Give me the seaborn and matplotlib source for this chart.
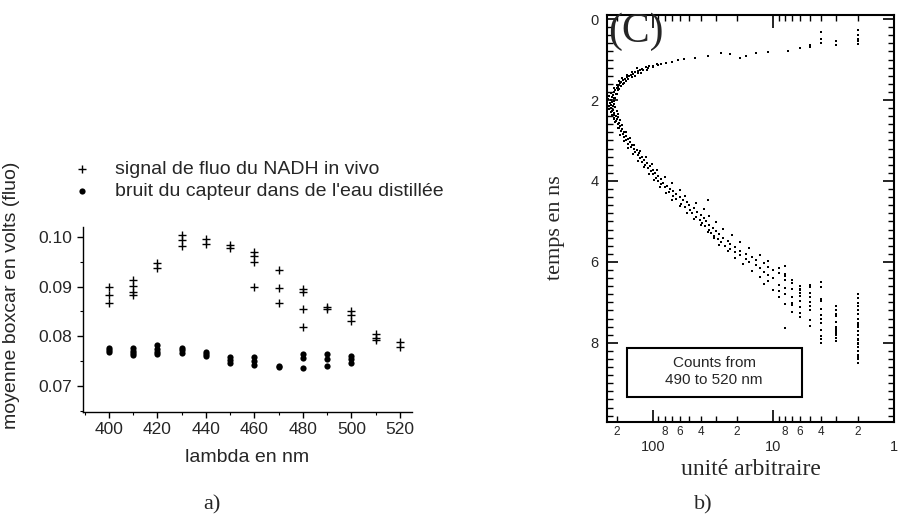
import numpy as np
import pandas as pd
import matplotlib
matplotlib.use("Agg")
import matplotlib.pyplot as plt
from matplotlib.ticker import MultipleLocator, LogLocator, FuncFormatter, FixedLocator
from matplotlib.patches import Rectangle
import seaborn as sns

# --- panel a) : boxcar mean vs wavelength ---
lambda_signal = [400, 400, 400, 410, 410, 410, 410, 420, 420, 430, 430, 430,
                 440, 440, 450, 450, 460, 460, 460, 460, 470, 470, 470,
                 480, 480, 480, 480, 490, 490, 500, 500, 500, 510, 510, 510, 520, 520]
signal = [0.0900, 0.0883, 0.0866, 0.0913, 0.0901, 0.0890, 0.0883, 0.0947, 0.0937,
          0.1004, 0.0994, 0.0982, 0.0995, 0.0986, 0.0984, 0.0977,
          0.0970, 0.0962, 0.0950, 0.0900, 0.0933, 0.0898, 0.0866,
          0.0896, 0.0889, 0.0855, 0.0819, 0.0858, 0.0855, 0.0851, 0.0842, 0.0831,
          0.0804, 0.0797, 0.0792, 0.0788, 0.0778]

lambda_bruit = [400, 400, 400, 410, 410, 410, 410, 420, 420, 420, 420, 430, 430, 430,
                440, 440, 440, 450, 450, 450, 460, 460, 460, 470, 470,
                480, 480, 480, 490, 490, 490, 500, 500, 500]
bruit = [0.0777, 0.0773, 0.0769, 0.0776, 0.0771, 0.0766, 0.0762,
         0.0782, 0.0775, 0.0768, 0.0765, 0.0777, 0.0772, 0.0767,
         0.0769, 0.0763, 0.0759, 0.0758, 0.0751, 0.0746, 0.0757, 0.0750, 0.0742,
         0.0739, 0.0737, 0.0764, 0.0755, 0.0735, 0.0765, 0.0754, 0.0740,
         0.0760, 0.0754, 0.0745]

# --- panel b) : fluorescence decay, counts 490-520 nm ---
temps_ns = [0.28, 0.40, 0.48, 0.55, 0.62, 0.55, 0.63, 0.33, 0.48, 0.58, 0.63, 0.70,
            0.72, 0.78, 0.82, 0.85, 0.90, 0.95, 0.86, 0.84, 0.92, 0.95, 0.99,
            1.02, 1.05, 1.08, 1.10, 1.12, 1.15, 1.17, 1.19, 1.21, 1.23, 1.25, 1.27,
            1.29, 1.31, 1.33, 1.35, 1.37, 1.40, 1.42, 1.44, 1.47, 1.50, 1.52, 1.55,
            1.58, 1.61, 1.64, 1.67, 1.70, 1.73, 1.76, 1.80, 1.84, 1.88, 1.92, 1.96,
            2.00, 2.04, 2.08, 2.12, 2.16, 2.20, 2.24, 2.28, 2.32, 2.36, 2.40, 2.44,
            2.48, 2.52, 2.56, 2.60, 2.64, 2.68, 2.72, 2.76, 2.80, 2.84, 2.88, 2.92,
            2.96, 3.00, 3.04, 3.08, 3.12, 3.16, 3.20, 3.24, 3.28, 3.32, 3.36, 3.40,
            3.44, 3.48, 3.52, 3.56, 3.60, 3.64, 3.68, 3.72, 3.76, 3.80, 3.84, 3.88,
            3.92, 3.96, 4.00, 4.04, 4.08, 4.12, 4.16, 4.20, 4.24, 4.28, 4.32, 4.36,
            4.40, 4.44, 4.46, 4.48, 4.52, 4.56, 4.60, 4.64, 4.68, 4.72, 4.76, 4.80,
            4.84, 4.88, 4.92, 4.96, 5.00, 5.04, 5.08, 5.12, 5.16, 5.20, 5.24, 5.28,
            5.32, 5.36, 5.40, 5.44, 5.48, 5.52, 5.56, 5.60, 5.64, 5.68, 5.72, 5.76,
            5.80, 5.84, 5.88, 5.92, 5.96, 6.00, 6.04, 6.08, 6.12, 6.16, 6.20, 6.24,
            6.28, 6.32, 6.36, 6.40, 6.44, 6.48, 6.52, 6.56, 6.60, 6.64, 6.68, 6.72,
            6.76, 6.80, 6.84, 6.88, 6.92, 6.96, 7.00, 7.04, 7.08, 7.12, 7.16, 7.20,
            7.24, 7.28, 7.32, 7.36, 7.40, 7.44, 7.48, 7.52, 7.56, 7.60, 7.64, 7.68,
            7.72, 7.76, 7.80, 7.84, 7.88, 7.92, 7.96, 8.00, 8.04, 8.10, 8.20, 8.30,
            8.40, 8.50, 6.50, 6.62, 6.80, 6.90, 7.02, 7.10, 7.30, 6.56, 6.70, 7.40,
            7.62, 7.66, 7.70, 7.74, 6.10, 6.30, 6.96, 7.20, 6.66, 7.06, 6.86, 7.50]
coups = [2, 2, 2, 2, 2, 3, 3, 4, 4, 4, 5, 5,
         6, 7.5, 11, 14, 17, 19, 23, 27, 35, 45, 55,
         62, 70, 78, 86, 92, 100, 108, 115, 110, 122, 128, 120,
         134, 140, 132, 146, 152, 158, 150, 165, 170, 176, 168, 182,
         186, 178, 192, 196, 200, 192, 206, 210, 204, 214, 220, 212,
         224, 218, 228, 222, 216, 224, 214, 218, 208, 212, 204, 208,
         198, 202, 192, 196, 186, 190, 180, 184, 174, 178, 168, 172,
         162, 166, 156, 160, 148, 152, 142, 136, 140, 130, 134, 124,
         128, 118, 122, 112, 116, 106, 110, 100, 104, 96, 100, 90,
         94, 86, 90, 82, 86, 76, 80, 72, 68, 74, 64, 68,
         60, 64, 35, 56, 52, 58, 50, 54, 46, 49, 43, 47,
         40, 44, 38, 41, 36, 39, 34, 37, 32, 34, 30, 33,
         28, 31, 26, 29, 24, 27, 23, 25, 21, 23, 19, 21,
         17, 19, 15, 17, 14, 16, 12, 14, 11, 13, 10, 12,
         9, 11, 8, 10, 8, 11, 7, 9, 6, 8, 7, 9,
         5, 8, 6, 7, 4, 6, 5, 8, 3, 6, 4, 5,
         7, 3, 4, 6, 2, 5, 3, 4, 2, 3, 8, 4,
         2, 3, 2, 4, 3, 2, 3, 4, 2, 2, 2, 2,
         2, 2, 4, 4, 2, 2, 2, 2, 2, 5, 6, 4,
         3, 3, 3, 3, 8, 8, 4, 2, 6, 7, 5, 2]

# second scan of the same decay (scatter around the first)
temps_ns_bis = [1.14, 1.18, 1.22, 1.26, 1.30, 1.34, 1.38, 1.41, 1.45, 1.49, 1.53, 1.57,
                1.62, 1.66, 1.71, 1.75, 1.82, 1.86, 1.90, 1.94, 1.98, 2.02, 2.06, 2.10,
                2.14, 2.18, 2.22, 2.26, 2.30, 2.34, 2.38, 2.42, 2.46, 2.50,
                2.55, 2.62, 2.70, 2.78, 2.86, 2.94, 3.02, 3.10, 3.18, 3.26, 3.34, 3.42,
                3.50, 3.58, 3.66, 3.74, 3.82, 3.90, 3.98, 4.06, 4.14, 4.22, 4.30, 4.38,
                4.46, 4.54, 4.62, 4.70, 4.78, 4.86, 4.94, 5.02, 5.10, 5.18, 5.26, 5.34,
                5.42, 5.50, 5.58, 5.66, 5.74, 5.82, 5.90, 5.98, 6.06, 6.14, 6.22, 6.30,
                6.38, 6.46, 6.54, 6.62, 6.70, 6.78, 6.86, 6.94, 7.02, 7.10, 7.18, 7.26,
                7.34, 7.42, 7.58, 7.80, 7.90, 8.20, 8.35, 7.60, 7.90, 8.00]
coups_bis = [90, 100, 135, 112, 150, 125, 165, 140, 180, 160, 190, 172,
             198, 185, 210, 196, 222, 200, 230, 205, 234, 208, 238, 210,
             232, 206, 230, 200, 222, 196, 218, 194, 212, 188,
             205, 180, 196, 168, 186, 154, 172, 144, 160, 128, 146, 114,
             132, 102, 118, 92, 108, 80, 98, 70, 88, 60, 78, 54,
             70, 44, 60, 38, 52, 34, 46, 30, 40, 26, 35, 22,
             31, 19, 28, 16, 24, 13, 21, 11, 18, 9, 15, 8,
             13, 7, 12, 5, 10, 6, 9, 4, 7, 5, 3, 6,
             3, 4, 5, 3, 4, 2, 2, 2, 2, 2]

sns.set_theme(style="ticks")
plt.rcParams['font.family'] = ['Liberation Sans', 'DejaVu Sans']
serif = ['Liberation Serif', 'DejaVu Serif']

fig = plt.figure(figsize=(8.99, 5.24), dpi=100)
ax1 = fig.add_axes([0.0923, 0.2137, 0.366, 0.353])
ax2 = fig.add_axes([0.6752, 0.1952, 0.3192, 0.7761])

# ---------- a) ----------
sns.scatterplot(x=lambda_signal, y=signal, marker='+', s=30, color='black',
                linewidth=1.0, ax=ax1, label='signal de fluo du NADH in vivo')
sns.scatterplot(x=lambda_bruit, y=bruit, marker='o', s=20, color='black',
                linewidth=0, ax=ax1, label="bruit du capteur dans de l'eau distillée")
ax1.set_xlim(389.3, 525)
ax1.set_ylim(0.0647, 0.1020)
ax1.xaxis.set_major_locator(MultipleLocator(20))
ax1.xaxis.set_minor_locator(MultipleLocator(10))
ax1.yaxis.set_major_locator(MultipleLocator(0.01))
ax1.yaxis.set_minor_locator(MultipleLocator(0.005))
ax1.yaxis.set_major_formatter(FuncFormatter(lambda v, p: f'{v:.2f}'))
ax1.tick_params(which='major', direction='out', length=4, width=1, labelsize=12.5, color='black')
ax1.tick_params(which='minor', direction='out', length=2, width=0.8, color='black')
for side in ['top', 'right']:
    ax1.spines[side].set_visible(False)
for side in ['left', 'bottom']:
    ax1.spines[side].set_color('black')
    ax1.spines[side].set_linewidth(1.0)
ax1.set_xlabel('lambda en nm', fontsize=14, labelpad=8)
ax1.set_ylabel('moyenne boxcar en volts (fluo)', fontsize=14)
ax1.yaxis.set_label_coords(-0.19, 0.632)
ax1.legend(loc='upper left', bbox_to_anchor=(0.080, 0.693), bbox_transform=fig.transFigure,
           frameon=False, fontsize=14, handlelength=1.0, handletextpad=1.2,
           borderpad=0, borderaxespad=0, labelspacing=0.2)

# ---------- b) ----------
sns.scatterplot(x=coups + coups_bis, y=temps_ns + temps_ns_bis, marker='s', s=4,
                color='black', linewidth=0, ax=ax2)
ax2.set_xscale('log')
ax2.set_xlim(240, 1)
ax2.set_ylim(9.95, -0.1)
ax2.xaxis.set_major_locator(LogLocator(base=10, numticks=10))
ax2.xaxis.set_minor_locator(LogLocator(base=10, subs=np.arange(2, 10), numticks=10))
ax2.xaxis.set_major_formatter(FuncFormatter(lambda v, p: f'{v:g}'))


def minor_label(v, p):
    d = int(round(v / 10 ** np.floor(np.log10(v))))
    return str(d) if d in (2, 4, 6, 8) else ''


ax2.xaxis.set_minor_formatter(FuncFormatter(minor_label))
ax2.yaxis.set_major_locator(FixedLocator([0, 2, 4, 6, 8]))
ax2.yaxis.set_minor_locator(MultipleLocator(0.2))
ax2.tick_params(which='both', direction='in', top=True, right=True, color='black')
ax2.tick_params(axis='x', which='major', length=9, width=1.2, pad=13, labelsize=10.5)
ax2.tick_params(axis='x', which='minor', length=4.5, width=1.0, pad=3, labelsize=8.5)
ax2.tick_params(axis='y', which='major', length=8, width=1.2, pad=6, labelsize=10.5)
ax2.tick_params(axis='y', which='minor', length=4, width=1.0)
for side in ax2.spines:
    ax2.spines[side].set_color('black')
    ax2.spines[side].set_linewidth(1.5)
ax2.set_xlabel('unité arbitraire', fontsize=17, family=serif, labelpad=4)
ax2.set_ylabel('temps en ns', fontsize=16, family=serif)
ax2.yaxis.set_label_coords(-0.146, 0.477)
ax2.text(0.005, 0.96, '(C)', transform=ax2.transAxes, fontsize=30, family=serif,
         ha='left', va='center')
ax2.add_patch(Rectangle((0.07, 0.061), 0.61, 0.121, transform=ax2.transAxes,
                        fill=False, edgecolor='black', linewidth=1.5))
ax2.text(0.373, 0.123, 'Counts from\n490 to 520 nm', transform=ax2.transAxes,
         fontsize=11, ha='center', va='center', linespacing=1.3)

fig.text(212 / 899, 1 - 505 / 524, 'a)', fontsize=16, family=serif, ha='center', va='center')
fig.text(703 / 899, 1 - 505 / 524, 'b)', fontsize=16, family=serif, ha='center', va='center')

fig.savefig('out.png', dpi=100, facecolor='white')
